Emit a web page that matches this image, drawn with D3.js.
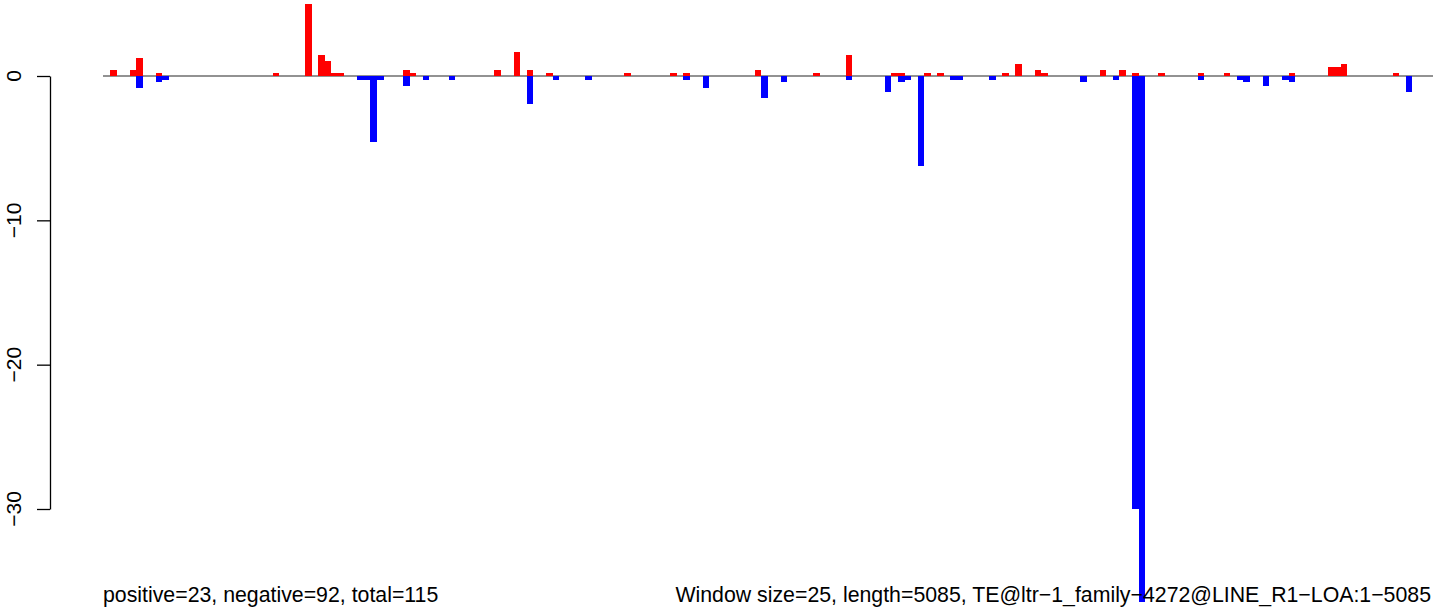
<!DOCTYPE html>
<html>
<head>
<meta charset="utf-8">
<script src="https://cdn.jsdelivr.net/npm/d3@7"></script>
<style>
  html, body { margin: 0; padding: 0; background: #fff; }
  svg { display: block; }
</style>
</head>
<body>
<div id="chart"></div>
<script>
// windows of 25 bp along the 5085 bp element
const N_WINDOWS = 203;

// positive (red) windows and their values
const posWin = [1, 4, 5, 8, 26, 31, 33, 34, 35, 36, 46, 47, 60, 63, 65, 68, 80, 87, 89, 100,
  109, 114, 121, 122, 126, 128, 138, 140, 143, 144, 153, 156, 158, 162, 168, 172, 182, 188, 189, 190, 198];
const posVal = [0.4, 0.4, 1.25, 0.2, 0.2, 5.0, 1.45, 1.05, 0.2, 0.2, 0.4, 0.2, 0.4, 1.66, 0.4, 0.2, 0.2, 0.2, 0.2, 0.4,
  0.2, 1.45, 0.2, 0.2, 0.2, 0.2, 0.2, 0.83, 0.4, 0.2, 0.4, 0.4, 0.2, 0.2, 0.2, 0.2, 0.2, 0.62, 0.62, 0.83, 0.2];

// negative (blue) windows and their values
const negWin = [5, 8, 9, 39, 40, 41, 42, 46, 49, 53, 65, 69, 74, 89, 92, 101, 104, 114, 120, 122,
  123, 125, 130, 131, 136, 150, 155, 158, 159, 168, 174, 175, 178, 181, 182, 200];
const negVal = [-0.83, -0.4, -0.28, -0.28, -0.28, -4.55, -0.28, -0.7, -0.28, -0.28, -1.94, -0.28, -0.28, -0.28, -0.83, -1.5, -0.4, -0.28, -1.1, -0.4,
  -0.28, -6.25, -0.28, -0.28, -0.28, -0.4, -0.28, -30, -36.45, -0.28, -0.28, -0.4, -0.7, -0.28, -0.4, -1.1];

const yTicks = [0, -10, -20, -30];

const leftNote = "positive=23, negative=92, total=115";
const rightNote = "Window size=25, length=5085, TE@ltr\u22121_family\u22124272@LINE_R1\u2212LOA:1\u22125085";

const W = 1444, H = 613;
const FONT = "'Liberation Sans', Arial, Helvetica, sans-serif";

const svg = d3.select("#chart").append("svg")
  .attr("width", W).attr("height", H)
  .style("font-family", FONT);

const x = d3.scaleBand().domain(d3.range(1, N_WINDOWS + 1)).range([110, 1432]).padding(0);
const y = d3.scaleLinear().domain([-30, 0]).range([509, 76]);

/* zero line */
svg.append("line")
  .attr("x1", 103).attr("x2", 1433)
  .attr("y1", y(0)).attr("y2", y(0))
  .attr("stroke", "#6e6e6e").attr("stroke-width", 1.4);

/* bars */
const pos = posWin.map((w, i) => ({ w, v: posVal[i] }));
const neg = negWin.map((w, i) => ({ w, v: negVal[i] }));

svg.append("g").attr("shape-rendering", "crispEdges").selectAll("rect").data(pos).enter().append("rect")
  .attr("x", d => x(d.w)).attr("width", x.bandwidth())
  .attr("y", d => y(d.v)).attr("height", d => y(0) - y(d.v))
  .attr("fill", "#ff0000");

svg.append("g").attr("shape-rendering", "crispEdges").selectAll("rect").data(neg).enter().append("rect")
  .attr("x", d => x(d.w)).attr("width", x.bandwidth())
  .attr("y", y(0)).attr("height", d => y(d.v) - y(0))
  .attr("fill", "#0000ff");

/* y axis */
const yAxis = svg.append("g").attr("transform", "translate(50,0)")
  .call(d3.axisLeft(y).tickValues(yTicks).tickSize(13).tickSizeOuter(0).tickFormat(""));
yAxis.select(".domain").attr("stroke", "#000").attr("stroke-width", 1.3);
yAxis.selectAll(".tick line").attr("stroke", "#000").attr("stroke-width", 1.3);

svg.append("g").selectAll("text").data(yTicks).enter().append("text")
  .attr("transform", d => `translate(21,${y(d)}) rotate(-90)`)
  .attr("text-anchor", "middle")
  .style("font-size", "21px").style("fill", "#000")
  .text(d => d3.format("d")(d).replace("-", "\u2212"));

/* footer notes */
svg.append("text").attr("x", 103).attr("y", 602)
  .style("font-size", "21.3px").style("fill", "#000").text(leftNote);
svg.append("text").attr("x", 1431).attr("y", 602).attr("text-anchor", "end")
  .style("font-size", "21.3px").style("fill", "#000").text(rightNote);
</script>
</body>
</html>
